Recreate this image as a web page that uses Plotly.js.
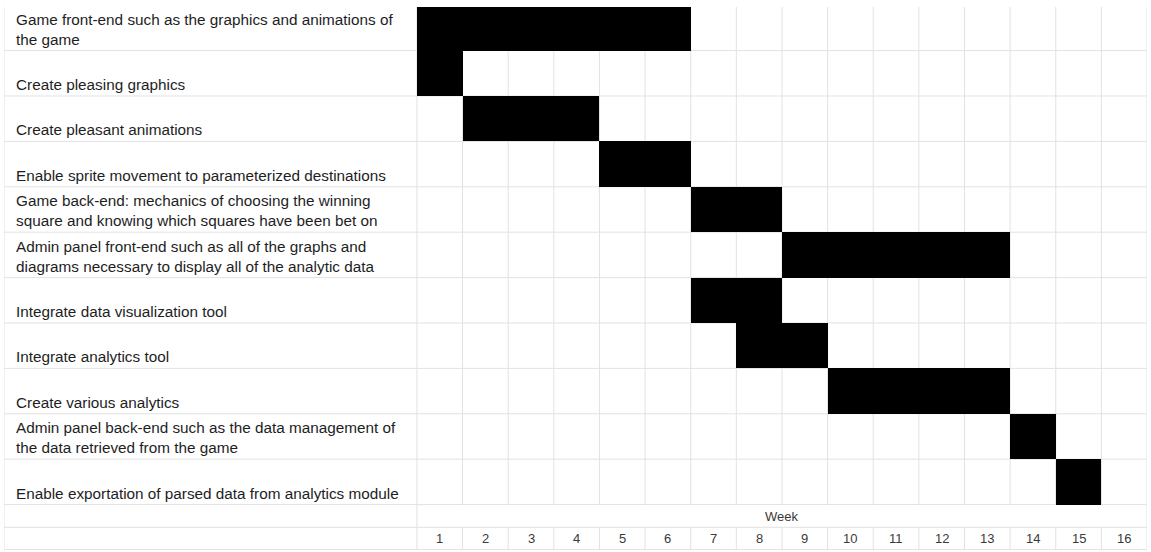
<!DOCTYPE html>
<html>
<head>
<meta charset="utf-8">
<script src="https://cdn.plot.ly/plotly-3.0.1.min.js"></script>
<style>
  html, body { margin: 0; padding: 0; background: #ffffff; }
  #chart { width: 1151px; height: 552px; }
</style>
</head>
<body>
<div id="chart"></div>
<script>
// ---- data ----
const tasks = [
  "Game front-end such as the graphics and animations of<br>the game",
  "Create pleasing graphics",
  "Create pleasant animations",
  "Enable sprite movement to parameterized destinations",
  "Game back-end: mechanics of choosing the winning<br>square and knowing which squares have been bet on",
  "Admin panel front-end such as all of the graphs and<br>diagrams necessary to display all of the analytic data",
  "Integrate data visualization tool",
  "Integrate analytics tool",
  "Create various analytics",
  "Admin panel back-end such as the data management of<br>the data retrieved from the game",
  "Enable exportation of parsed data from analytics module"
];
const startWeek = [1, 1, 2, 5, 7, 9, 7, 8, 10, 14, 15];
const endWeek   = [6, 1, 4, 6, 8, 13, 8, 9, 13, 14, 15];
const weekLabels = ["1","2","3","4","5","6","7","8","9","10","11","12","13","14","15","16"];
const weekHeader = "Week";

// ---- layout helpers ----
const nWeeks = weekLabels.length;
const nTasks = tasks.length;
const labelLeft = -9.05;          // left edge of label column (in week units)
const weekRowTop = nTasks;
const weekRowBottom = nTasks + 0.5;
const numRowBottom = nTasks + 1.0;
const gridColor = "#e2e2e2";
const fontFam = "Liberation Sans, Arial, sans-serif";

const barTrace = {
  type: "bar",
  orientation: "h",
  y: tasks.map((_, i) => i + 0.5),
  base: startWeek.map(s => s - 1),
  x: startWeek.map((s, i) => endWeek[i] - s + 1),
  width: 1,
  marker: { color: "#000000", line: { width: 0 } },
  hoverinfo: "skip",
  showlegend: false
};

const shapes = [];
function line(x0, y0, x1, y1, xref, yref) {
  shapes.push({
    type: "line", layer: "below",
    xref: xref || "x", yref: yref || "y",
    x0: x0, y0: y0, x1: x1, y1: y1,
    line: { color: gridColor, width: 1 }
  });
}
// horizontal row lines
for (let r = 1; r <= nTasks; r++) line(labelLeft, r, nWeeks, r);
line(labelLeft, weekRowBottom, nWeeks, weekRowBottom);
line(labelLeft, numRowBottom - 0.01, nWeeks, numRowBottom - 0.01);
// outer verticals (full height)
line(labelLeft, 0, labelLeft, 1, "x", "paper");
line(0, 0, 0, 1, "x", "paper");
line(nWeeks, 0, nWeeks, 1, "x", "paper");
// inner week verticals (skip the merged "Week" row)
for (let k = 1; k < nWeeks; k++) {
  line(k, -1, k, weekRowTop);
  line(k, weekRowBottom, k, numRowBottom);
}

const annotations = [];
tasks.forEach((t, i) => {
  annotations.push({
    x: labelLeft, y: i + 1, xref: "x", yref: "y",
    xanchor: "left", yanchor: "bottom", align: "left",
    xshift: 10, yshift: 1,
    text: t, showarrow: false,
    font: { family: fontFam, size: 15.3, color: "#1e1e1e" }
  });
});
annotations.push({
  x: nWeeks / 2, y: (weekRowTop + weekRowBottom) / 2, xref: "x", yref: "y",
  xanchor: "center", yanchor: "middle", yshift: -1,
  text: weekHeader, showarrow: false,
  font: { family: fontFam, size: 13, color: "#3a3a3a" }
});
weekLabels.forEach((w, i) => {
  annotations.push({
    x: i + 0.5, y: (weekRowBottom + numRowBottom) / 2, xref: "x", yref: "y",
    xanchor: "center", yanchor: "middle",
    text: w, showarrow: false,
    font: { family: fontFam, size: 13, color: "#3a3a3a" }
  });
});

const layout = {
  width: 1151, height: 552,
  margin: { l: 4, r: 4, t: 7, b: 2, pad: 0 },
  paper_bgcolor: "#ffffff", plot_bgcolor: "#ffffff",
  bargap: 0,
  xaxis: { range: [labelLeft, nWeeks], visible: false, fixedrange: true },
  yaxis: { range: [numRowBottom, 0.04], visible: false, fixedrange: true },
  shapes: shapes,
  annotations: annotations,
  showlegend: false
};

Plotly.newPlot("chart", [barTrace], layout, { staticPlot: true, displayModeBar: false });
</script>
</body>
</html>
